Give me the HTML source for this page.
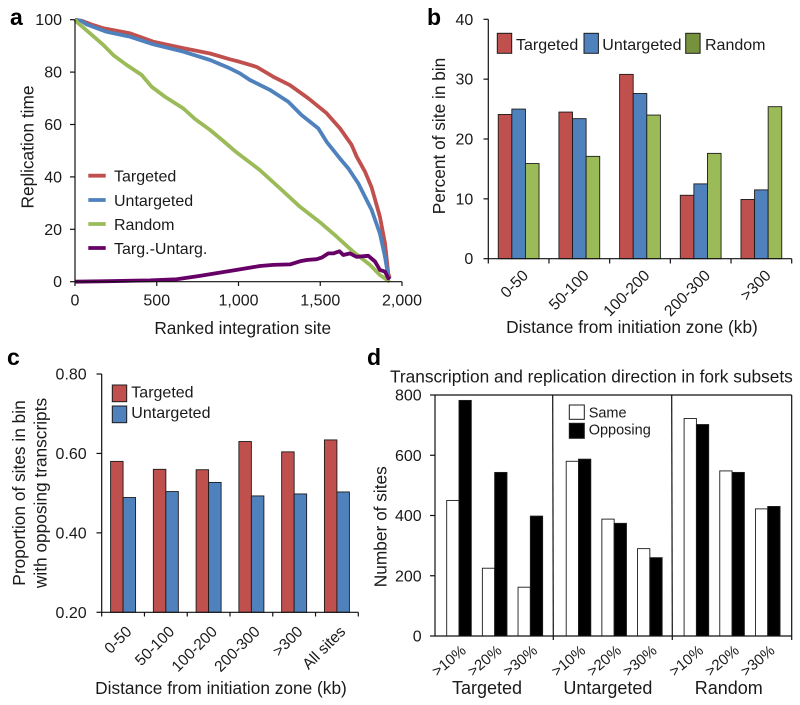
<!DOCTYPE html>
<html lang="en">
<head>
<meta charset="utf-8">
<title>Replication time and integration sites</title>
<style>
html,body{margin:0;padding:0;background:#fff;}
svg{display:block;font-family:"Liberation Sans",Arial,sans-serif;fill:#1a1a1a;}
</style>
</head>
<body>
<svg id="fig" width="800" height="705" viewBox="0 0 800 705" xmlns="http://www.w3.org/2000/svg">
  <g font-weight="bold" font-size="23" fill="#000">
    <text x="10" y="25">a</text>
    <text x="427" y="25">b</text>
    <text x="7" y="365">c</text>
    <text x="367" y="365">d</text>
  </g>
  <g font-size="17.3">
    <text x="242.7" y="334" text-anchor="middle">Ranked integration site</text>
    <text transform="translate(33.5,147) rotate(-90)" text-anchor="middle">Replication time</text>
    <text x="632" y="333" text-anchor="middle">Distance from initiation zone (kb)</text>
    <text transform="translate(445,136) rotate(-90)" text-anchor="middle">Percent of site in bin</text>
    <text x="221" y="694" text-anchor="middle">Distance from initiation zone (kb)</text>
    <text transform="translate(25,493) rotate(-90)" text-anchor="middle">Proportion of sites in bin</text>
    <text transform="translate(46.7,493) rotate(-90)" text-anchor="middle">with opposing transcripts</text>
    <text x="390" y="382.5">Transcription and replication direction in fork subsets</text>
    <text transform="translate(386.7,526.7) rotate(-90)" text-anchor="middle">Number of sites</text>
  </g>
  <g id="panelA"></g>
  <g id="panelB"></g>
  <g id="panelC"></g>
  <g id="panelD"></g>
</svg>
<script>
// Panel a data
const aTicksX = [0, 500, 1000, 1500, 2000];
const aTicksY = [0, 20, 40, 60, 80, 100];
const aRankTargeted = [0,40,100,173,336,479,642,826,948,1009,1111,1213,1315,1427,1539,1621,1692,1723,1774,1814,1865,1896,1916,1925];
const aTargeted = [100,99.6,98.2,96.7,94.8,91.6,89.4,87.1,84.9,83.9,82,78.2,75,70,64.3,58.5,52.2,47.7,42,36,24.8,14.6,3,1.5];
const aRankUntargeted = [0,40,71,193,336,479,663,826,948,1009,1070,1192,1304,1386,1488,1539,1621,1672,1733,1753,1814,1865,1896,1916,1925];
const aUntargeted = [100,99.5,98.2,95.4,93.5,90.6,87.8,84.6,81.4,79.5,77,73.2,68.7,63.6,58.5,53.4,47,43.2,37.5,35,27.4,18.4,9.5,2,1];
const aRankRandom = [0,10,92,173,234,316,408,469,550,663,734,826,907,979,1131,1254,1376,1498,1600,1702,1804,1865,1925];
const aRandom = [100,99.2,94.8,90.4,86.5,82.7,78.9,74.4,70.6,66.1,62.1,57.9,53.7,49.8,42.6,35.6,28.6,22.7,17.2,11.4,6.4,2.5,0];
const aRankDiff = [0,200,459,622,764,989,1131,1213,1315,1376,1417,1478,1509,1549,1580,1617,1641,1682,1722,1794,1835,1865,1896,1916,1925];
const aDiff = [0,0.2,0.5,0.9,2.2,4.5,6.0,6.4,6.6,7.8,8.3,8.6,9.2,10.8,10.8,11.6,10.2,10.8,9.5,9.9,7.7,4.5,3.8,1.3,2];
// Panel b data
const bCategories = ["0-50","50-100","100-200","200-300",">300"];
const bTicksY = [0,10,20,30,40];
const bTargeted = [24.1,24.5,30.8,10.6,9.9];
const bUntargeted = [25,23.4,27.6,12.5,11.5];
const bRandom = [15.9,17.1,24,17.6,25.4];
// Panel c data
const cCategories = ["0-50","50-100","100-200","200-300",">300","All sites"];
const cTicksY = [0.2,0.4,0.6,0.8];
const cTargeted = [0.58,0.56,0.559,0.63,0.604,0.634];
const cUntargeted = [0.489,0.504,0.527,0.493,0.498,0.503];
// Panel d data
const dGroups = ["Targeted","Untargeted","Random"];
const dSubsets = [">10%",">20%",">30%"];
const dTicksY = [0,200,400,600,800];
const dSameTargeted = [450,225,162];
const dOpposingTargeted = [782,543,398];
const dSameUntargeted = [580,388,290];
const dOpposingUntargeted = [587,374,260];
const dSameRandom = [722,548,422];
const dOpposingRandom = [702,543,430];

const RED = "#c0504d", BLUE = "#4f81bd", GREEN = "#9bbb59", PURPLE = "#660066";
const NS = "http://www.w3.org/2000/svg";

function make(tag, attrs, parent, text) {
  const e = document.createElementNS(NS, tag);
  for (const k in attrs) e.setAttribute(k, attrs[k]);
  if (text !== undefined) e.textContent = text;
  parent.appendChild(e);
  return e;
}
function axisLine(parent, x1, y1, x2, y2, name) {
  const e = make("line", {x1, y1, x2, y2, stroke: "#111", "stroke-width": 1.2}, parent);
  
  
  return e;
}
function label(parent, x, y, str, anchor, size, name) {
  const e = make("text", {x, y, "text-anchor": anchor, "font-size": size}, parent, str);
  
  
  return e;
}
function slanted(parent, x, y, str, size, angle, name) {
  const e = make("text", {transform: `translate(${x},${y}) rotate(${angle})`, "text-anchor": "end", "font-size": size}, parent, str);
  
  
  return e;
}
function bar(parent, x, w, yTop, yBase, fill, name) {
  const e = make("rect", {x, y: yTop, width: w, height: yBase - yTop, fill, stroke: "#1c1c1c", "stroke-width": 0.9}, parent);
  
  
  return e;
}
function swatch(parent, x, y, w, h, fill, name) {
  const e = make("rect", {x, y, width: w, height: h, fill, stroke: "#1c1c1c", "stroke-width": 1}, parent);
  
  
  return e;
}

// ---------- Panel a ----------
(function () {
  const g = document.getElementById("panelA");
  const x = v => 75 + v / 2000 * 327;
  const y = v => 281.7 - v / 100 * 262;
  aTicksY.forEach(t => {
    axisLine(g, 70, y(t), 75, y(t), "panel-a-y-tick");
    label(g, 62, y(t) + 5.5, String(t), "end", 16, "panel-a-y-tick-label");
  });
  aTicksX.forEach(t => {
    axisLine(g, x(t), 281.7, x(t), 286, "panel-a-x-tick");
    label(g, x(t), 305.5, t.toLocaleString("en-US"), "middle", 16, "panel-a-x-tick-label");
  });
  const seriesList = [
    [aRankTargeted, aTargeted, RED, "targeted-line"],
    [aRankUntargeted, aUntargeted, BLUE, "untargeted-line"],
    [aRankRandom, aRandom, GREEN, "random-line"],
    [aRankDiff, aDiff, PURPLE, "targ-untarg-line"]
  ];
  seriesList.forEach(s => {
    const pts = s[0].map((r, i) => x(r).toFixed(1) + "," + y(s[1][i]).toFixed(1)).join(" ");
    const p = make("polyline", {points: pts, fill: "none", stroke: s[2], "stroke-width": 3.8, "stroke-linejoin": "round"}, g);
    
    
  });
  axisLine(g, 75, 19.7, 75, 281.7, "panel-a-y-axis");
  axisLine(g, 75, 281.7, 402, 281.7, "panel-a-x-axis");
  const legend = [["Targeted", RED, 175.7], ["Untargeted", BLUE, 200], ["Random", GREEN, 224], ["Targ.-Untarg.", PURPLE, 248]];
  legend.forEach(l => {
    const k = make("line", {x1: 88.3, x2: 105.7, y1: l[2], y2: l[2], stroke: l[1], "stroke-width": 3.8}, g);
    
    
    label(g, 114, l[2] + 6, l[0], "start", 16, "legend-entry");
  });
})();

// ---------- Panel b ----------
(function () {
  const g = document.getElementById("panelB");
  const x0 = 488.3, x1 = 791.7, step = (x1 - x0) / bCategories.length, bw = 13.6;
  const y = v => 258.7 - v / 40 * 239.4;
  const series = [[bTargeted, RED, "targeted"], [bUntargeted, BLUE, "untargeted"], [bRandom, GREEN, "random"]];
  bCategories.forEach((c, i) => {
    const left = x0 + i * step + (step - 3 * bw) / 2;
    series.forEach((s, j) => bar(g, left + j * bw, bw, y(s[0][i]), y(0), s[1], "bar-" + s[2]));
    slanted(g, x0 + (i + 0.5) * step + 10.5, 276.5, c, 15.7, -45, "panel-b-x-tick-label");
  });
  for (let i = 0; i <= bCategories.length; i++) axisLine(g, x0 + i * step, 258.7, x0 + i * step, 263.5, "panel-b-x-tick");
  bTicksY.forEach(t => {
    axisLine(g, 483.5, y(t), x0, y(t), "panel-b-y-tick");
    label(g, 473.3, y(t) + 5.5, String(t), "end", 16, "panel-b-y-tick-label");
  });
  axisLine(g, x0, y(40), x0, y(0), "panel-b-y-axis");
  axisLine(g, x0, y(0), x1, y(0), "panel-b-x-axis");
  swatch(g, 497.3, 33.3, 14.4, 20, RED, "legend-swatch-targeted");
  label(g, 516, 50, "Targeted", "start", 16, "legend-entry");
  swatch(g, 584, 33.3, 14.4, 20, BLUE, "legend-swatch-untargeted");
  label(g, 602.3, 50, "Untargeted", "start", 16, "legend-entry");
  swatch(g, 685.7, 33.3, 14.4, 20, "#76923c", "legend-swatch-random");
  label(g, 705, 50, "Random", "start", 16, "legend-entry");
})();

// ---------- Panel c ----------
(function () {
  const g = document.getElementById("panelC");
  const x0 = 101.7, x1 = 358.3, step = (x1 - x0) / cCategories.length, bw = 12.5;
  const y = v => 612.3 - (v - 0.2) / 0.6 * 238.3;
  cCategories.forEach((c, i) => {
    const left = x0 + i * step + (step - 2 * bw) / 2;
    bar(g, left, bw, y(cTargeted[i]), y(0.2), RED, "bar-targeted");
    bar(g, left + bw, bw, y(cUntargeted[i]), y(0.2), BLUE, "bar-untargeted");
    slanted(g, x0 + (i + 0.5) * step + 9.5, 632.5, c, 15.5, -45, "panel-c-x-tick-label");
  });
  for (let i = 0; i <= cCategories.length; i++) axisLine(g, x0 + i * step, 612.3, x0 + i * step, 616.5, "panel-c-x-tick");
  cTicksY.forEach(t => {
    axisLine(g, 96.5, y(t), x0, y(t), "panel-c-y-tick");
    label(g, 86.7, y(t) + 5.5, t.toFixed(2), "end", 16, "panel-c-y-tick-label");
  });
  axisLine(g, x0, y(0.8), x0, y(0.2), "panel-c-y-axis");
  axisLine(g, x0, y(0.2), x1, y(0.2), "panel-c-x-axis");
  swatch(g, 112.3, 385, 14.4, 16.7, RED, "legend-swatch-targeted");
  label(g, 131.3, 397.3, "Targeted", "start", 16, "legend-entry");
  swatch(g, 112.3, 406, 14.4, 16.7, BLUE, "legend-swatch-untargeted");
  label(g, 131.3, 418, "Untargeted", "start", 16, "legend-entry");
})();

// ---------- Panel d ----------
(function () {
  const g = document.getElementById("panelD");
  const x0 = 435, x1 = 791.7, groupW = 118.9, step = 35.67, bw = 12.3;
  const y = v => 636 - v / 800 * 241;
  const same = [dSameTargeted, dSameUntargeted, dSameRandom];
  const opposing = [dOpposingTargeted, dOpposingUntargeted, dOpposingRandom];
  const pad = [11.7, 12.3, 11.3];
  dGroups.forEach((name, gi) => {
    const gx = x0 + gi * groupW;
    dSubsets.forEach((sub, i) => {
      const left = gx + pad[gi] + i * step;
      bar(g, left, bw, y(same[gi][i]), y(0), "#fff", "bar-same");
      bar(g, left + bw, bw, y(opposing[gi][i]), y(0), "#000", "bar-opposing");
      slanted(g, left + bw + 8, 652, sub, 15, -40, "panel-d-x-tick-label");
    });
    label(g, gx + 52 + gi * 2, 694, name, "middle", 18, "panel-d-group-label");
  });
  dTicksY.forEach(t => {
    axisLine(g, 430, y(t), x0, y(t), "panel-d-y-tick");
    label(g, 421.7, y(t) + 5.5, String(t), "end", 16, "panel-d-y-tick-label");
  });
  axisLine(g, x0, y(800), x0, y(0), "panel-d-y-axis");
  axisLine(g, x0, y(0), x1, y(0), "panel-d-x-axis");
  axisLine(g, x0, y(800), x1, y(800), "panel-d-top-border");
  axisLine(g, x1, y(800), x1, y(0) + 4, "panel-d-right-border");
  axisLine(g, 552.7, y(800), 553.3, y(0) + 4, "panel-d-separator");
  axisLine(g, 671.7, y(800), 672.3, y(0) + 4, "panel-d-separator");
  swatch(g, 569.3, 405, 15, 14.3, "#fff", "legend-swatch-same");
  label(g, 588.7, 417.3, "Same", "start", 14.5, "legend-entry");
  swatch(g, 569.3, 423.3, 15, 15, "#000", "legend-swatch-opposing");
  label(g, 588.7, 434.7, "Opposing", "start", 14.5, "legend-entry");
})();
</script>
</body>
</html>
